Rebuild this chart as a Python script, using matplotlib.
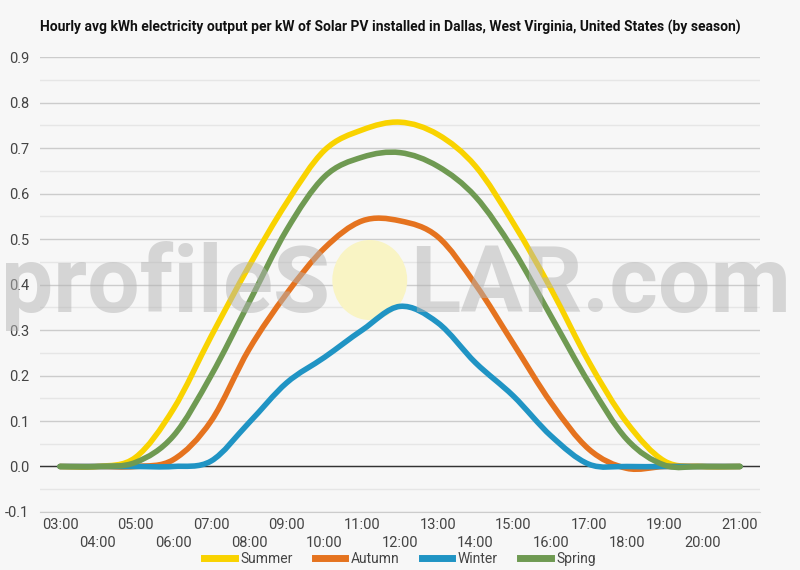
import numpy as np
import matplotlib
matplotlib.use("Agg")
from matplotlib import pyplot as plt
from matplotlib.path import Path
from matplotlib.patches import PathPatch, Ellipse
from matplotlib.lines import Line2D

# Hourly averages (kWh per kW installed)
hours = ["03:00", "04:00", "05:00", "06:00", "07:00", "08:00", "09:00", "10:00",
         "11:00", "12:00", "13:00", "14:00", "15:00", "16:00", "17:00", "18:00",
         "19:00", "20:00", "21:00"]
summer = [0.0, 0.0, 0.02, 0.126, 0.286, 0.44, 0.58, 0.695, 0.74, 0.757,
          0.73, 0.66, 0.535, 0.39, 0.23, 0.097, 0.012, 0.0, 0.0]
autumn = [0.0, 0.0, 0.0, 0.015, 0.10, 0.257, 0.38, 0.48, 0.54, 0.54,
          0.505, 0.40, 0.27, 0.14, 0.038, -0.004, 0.0, 0.0, 0.0]
winter = [0.0, 0.0, 0.0, 0.0, 0.012, 0.096, 0.184, 0.24, 0.30, 0.352,
          0.316, 0.228, 0.155, 0.067, 0.005, 0.0, 0.0, 0.0, 0.0]
spring = [0.0, 0.0, 0.009, 0.067, 0.20, 0.36, 0.52, 0.637, 0.68, 0.69,
          0.66, 0.593, 0.476, 0.33, 0.184, 0.06, 0.003, 0.0, 0.0]

series = [("Summer", summer, "#f9d300"),
          ("Autumn", autumn, "#e5731f"),
          ("Winter", winter, "#2094c4"),
          ("Spring", spring, "#6f9a52")]

BG = "#f7f7f7"


def smooth_path(xs, ys):
    # Catmull-Rom spline through the data points, as cubic bezier segments
    pts = np.column_stack([xs, ys])
    verts = [pts[0]]
    codes = [Path.MOVETO]
    n = len(pts)
    for i in range(n - 1):
        p0 = pts[max(i - 1, 0)]
        p1 = pts[i]
        p2 = pts[i + 1]
        p3 = pts[min(i + 2, n - 1)]
        c1 = p1 + (p2 - p0) / 6.0
        c2 = p2 - (p3 - p1) / 6.0
        verts += [c1, c2, p2]
        codes += [Path.CURVE4] * 3
    return Path(verts, codes)


def main() -> None:
    plt.rcParams['font.family'] = ['Roboto', 'DejaVu Sans']
    fig = plt.figure(figsize=(8, 5.7), dpi=100, facecolor=BG)
    ax = fig.add_axes([0.05, 0.1018, 0.9, 0.798], facecolor=BG)

    x = np.arange(len(hours))
    ax.set_xlim(-0.529, len(hours) - 1 + 0.529)
    ax.set_ylim(-0.1, 0.9)

    ax.set_yticks(np.arange(-0.1, 0.91, 0.1))
    ax.set_yticks(np.arange(-0.05, 0.9, 0.1), minor=True)
    ax.set_yticklabels([f"{v:.1f}" for v in np.arange(-0.1, 0.91, 0.1)],
                       fontsize=10.5, color="#444444")
    ax.grid(axis="y", which="major", color="#cccccc", linewidth=1)
    ax.grid(axis="y", which="minor", color="#e6e6e6", linewidth=1)
    ax.tick_params(axis="y", which="both", length=0, pad=8)
    ax.axhline(0, color="#333333", linewidth=1, zorder=2)

    ax.set_xticks(x)
    labels = [h if i % 2 == 0 else "\n" + h for i, h in enumerate(hours)]
    ax.set_xticklabels(labels, fontsize=10.5, color="#444444", linespacing=1.45)
    ax.tick_params(axis="x", length=0, pad=4)
    for side in ["top", "right", "left"]:
        ax.spines[side].set_visible(False)
    ax.spines["bottom"].set_color("#cccccc")
    ax.set_axisbelow(True)

    # watermark sun, beneath the lines
    ax.add_patch(Ellipse((0.458, 0.51), 0.104, 0.176, transform=ax.transAxes,
                         facecolor="#f9f4c4", edgecolor="none", zorder=2.5))

    handles = []
    for name, vals, col in series:
        patch = PathPatch(smooth_path(x, vals), facecolor="none", edgecolor=col,
                          linewidth=4, capstyle="round", joinstyle="round", zorder=3)
        ax.add_patch(patch)
        handles.append(Line2D([], [], color=col, linewidth=5, label=name))

    # watermark text, over the lines
    fig.text(330 / 800, 1 - 312 / 570, "profileS", ha="right", va="baseline",
             fontsize=67, fontweight="bold", color="#b4b4b4", alpha=0.5, zorder=5)
    fig.text(410 / 800, 1 - 312 / 570, "LAR.com", ha="left", va="baseline",
             fontsize=67, fontweight="bold", color="#b4b4b4", alpha=0.5, zorder=5)

    fig.text(0.05, 0.951, "Hourly avg kWh electricity output per kW of Solar PV installed in "
             "Dallas, West Virginia, United States (by season)",
             fontsize=10, fontweight="bold", color="#111111", va="center")

    fig.legend(handles=handles, loc="center", bbox_to_anchor=(0.5, 0.02), ncol=4,
               frameon=False, fontsize=10, handlelength=2.2, handletextpad=0.4,
               columnspacing=1.6, labelcolor="#444444")

    fig.savefig("out.png", dpi=100, facecolor=BG)


if __name__ == "__main__":
    main()
